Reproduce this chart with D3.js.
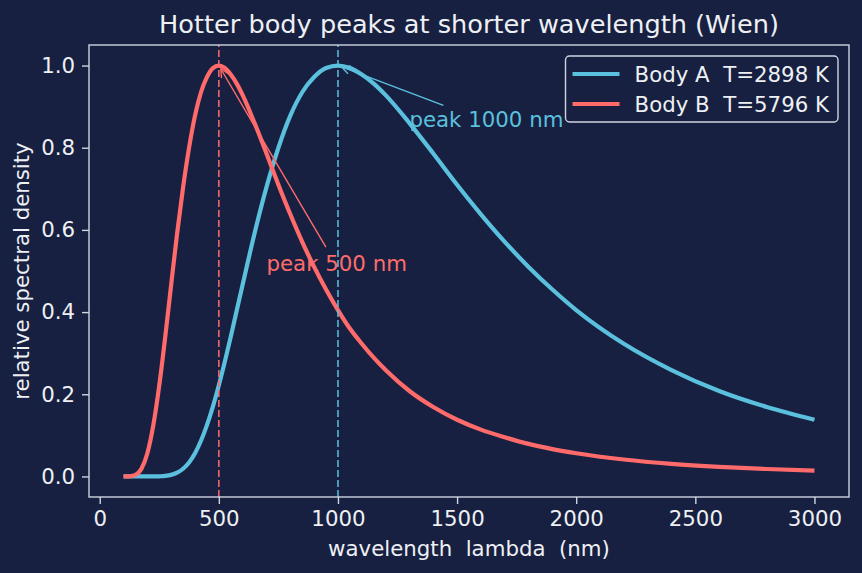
<!DOCTYPE html>
<html lang="en">
<head>
<meta charset="UTF-8">
<title>Hotter body peaks at shorter wavelength (Wien)</title>
<script src="https://d3js.org/d3.v7.min.js"></script>
<style>
  html, body { margin: 0; padding: 0; background: #172040; }
  svg { display: block; font-family: "DejaVu Sans", sans-serif; }
  text { white-space: pre; }
</style>
</head>
<body>
<svg id="chart" width="862" height="573"></svg>
<script>
// wavelengths (nm) at which the curves were read
const wavelengths = [100,125,150,175,200,225,250,275,300,325,350,375,400,425,450,475,500,
  525,550,575,600,650,700,750,800,850,900,950,1000,1050,1100,1150,1200,
  1300,1400,1500,1600,1700,1800,1900,2000,2200,2400,2600,2800,3000];

// Body A, T = 2898 K (relative spectral density)
const bodyA = [0,0,0,0,0,0,0.0004,0.0013,0.0038,0.0091,0.0187,0.0341,0.0566,0.0869,0.125,0.170,0.222,
  0.279,0.340,0.404,0.467,0.592,0.704,0.800,0.878,0.935,0.972,0.994,1.0,0.994,0.978,0.956,0.928,
  0.860,0.786,0.710,0.638,0.571,0.510,0.455,0.405,0.323,0.259,0.208,0.169,0.138];

// Body B, T = 5796 K
const bodyB = [0,0.0004,0.0038,0.0187,0.0566,0.125,0.222,0.340,0.467,0.592,0.704,0.800,0.878,0.935,0.972,0.994,1.0,
  0.994,0.978,0.956,0.928,0.860,0.786,0.710,0.638,0.571,0.510,0.455,0.405,0.360,0.323,0.289,0.259,
  0.208,0.169,0.138,0.114,0.0955,0.0792,0.0666,0.0565,0.0412,0.0307,0.0234,0.0181,0.0142];

const seriesNames = ["Body A  T=2898 K", "Body B  T=5796 K"];
const peaks = [1000, 500];
const peakLabels = ["peak 1000 nm", "peak 500 nm"];
const labelPos = [[1300, 0.85], [700, 0.5]];
const xTicks = [0, 500, 1000, 1500, 2000, 2500, 3000];
const yTicks = [0.0, 0.2, 0.4, 0.6, 0.8, 1.0];

const colors = ["#5bc0de", "#ff6b6b"];
const fg = "#eef0f4";
const spine = "#cfd4e0";
const fs = 21.3;

const margin = {top: 45, right: 13, bottom: 76, left: 89};
const width = 862, height = 573;

const svg = d3.select("#chart");

const x = d3.scaleLinear().domain([-45, 3145]).range([margin.left, width - margin.right]);
const y = d3.scaleLinear().domain([-0.05, 1.05]).range([height - margin.bottom, margin.top]);

// background
svg.append("rect").attr("width", width).attr("height", height).attr("fill", "#172040");

// axes
const xAxis = svg.append("g")
  .attr("transform", `translate(0,${height - margin.bottom})`)
  .call(d3.axisBottom(x).tickValues(xTicks).tickFormat(d3.format("d")).tickSizeOuter(0).tickSize(7).tickPadding(7));
const yAxis = svg.append("g")
  .attr("transform", `translate(${margin.left},0)`)
  .call(d3.axisLeft(y).tickValues(yTicks).tickFormat(d3.format(".1f")).tickSizeOuter(0).tickSize(7).tickPadding(7));
[xAxis, yAxis].forEach(g => {
  g.select(".domain").remove();
  g.selectAll(".tick line").attr("stroke", spine).attr("stroke-width", 1.4);
  g.selectAll(".tick text").attr("fill", fg).attr("font-size", fs).attr("font-family", "DejaVu Sans");
});

// curves
const line = d3.line().x(d => x(d[0])).y(d => y(d[1])).curve(d3.curveMonotoneX);
[bodyA, bodyB].forEach((vals, i) => {
  svg.append("path")
    .datum(wavelengths.map((w, j) => [w, vals[j]]))
    .attr("d", line)
    .attr("fill", "none")
    .attr("stroke", colors[i])
    .attr("stroke-width", 4.2)
    .attr("stroke-linejoin", "round");
});

// peak markers
peaks.forEach((p, i) => {
  svg.append("line")
    .attr("x1", x(p)).attr("x2", x(p))
    .attr("y1", y.range()[0]).attr("y2", y.range()[1])
    .attr("stroke", colors[i])
    .attr("stroke-width", 1.5)
    .attr("stroke-dasharray", "7,3");
});

// annotations with arrows
peaks.forEach((p, i) => {
  const t = svg.append("text")
    .attr("x", x(labelPos[i][0]))
    .attr("y", y(labelPos[i][1]))
    .attr("fill", colors[i])
    .attr("font-size", fs)
    .text(peakLabels[i]);
  const bb = t.node().getBBox();
  const pad = 4.2;
  const bx0 = bb.x - pad, bx1 = bb.x + bb.width + pad;
  const base = y(labelPos[i][1]);
  const by0 = base - 0.76 * fs - pad, by1 = base + 0.24 * fs + pad;
  const cx = (bx0 + bx1) / 2, cy = (by0 + by1) / 2;
  const tx = x(p), ty = y(1.0);
  const dx = tx - cx, dy = ty - cy;
  // where the line from text centre to target leaves the text box
  let s = Infinity;
  if (dx !== 0) s = Math.min(s, Math.abs((dx > 0 ? bx1 - cx : bx0 - cx) / dx));
  if (dy !== 0) s = Math.min(s, Math.abs((dy > 0 ? by1 - cy : by0 - cy) / dy));
  const len = Math.hypot(dx, dy);
  const ux = dx / len, uy = dy / len;
  const sx = cx + dx * s + ux * 4, sy = cy + dy * s + uy * 4;
  const ex = tx - ux * 4, ey = ty - uy * 4;
  const g = svg.append("g").attr("stroke", colors[i]).attr("stroke-width", 1.4).attr("fill", "none");
  g.append("line").attr("x1", sx).attr("y1", sy).attr("x2", ex).attr("y2", ey);
  const hl = 8.3, hw = 4.2;
  const px = -uy, py = ux;
  g.append("path").attr("d",
    `M${ex - ux * hl + px * hw},${ey - uy * hl + py * hw}L${ex},${ey}L${ex - ux * hl - px * hw},${ey - uy * hl - py * hw}`);
});

// spines
svg.append("rect")
  .attr("x", margin.left).attr("y", margin.top)
  .attr("width", width - margin.left - margin.right)
  .attr("height", height - margin.top - margin.bottom)
  .attr("fill", "none").attr("stroke", spine).attr("stroke-width", 1.4);

// title and axis labels
svg.append("text")
  .attr("x", (margin.left + width - margin.right) / 2).attr("y", 33)
  .attr("text-anchor", "middle").attr("fill", fg).attr("font-size", 25.6)
  .text("Hotter body peaks at shorter wavelength (Wien)");
svg.append("text")
  .attr("x", (margin.left + width - margin.right) / 2).attr("y", 556)
  .attr("text-anchor", "middle").attr("fill", fg).attr("font-size", fs)
  .text("wavelength  lambda  (nm)");
svg.append("text")
  .attr("transform", `translate(29,${(margin.top + height - margin.bottom) / 2}) rotate(-90)`)
  .attr("text-anchor", "middle").attr("fill", fg).attr("font-size", fs)
  .text("relative spectral density");

// legend
const legend = svg.append("g");
const box = legend.append("rect");
const texts = seriesNames.map((name, i) => {
  legend.append("line")
    .attr("x1", 0).attr("x2", 47)
    .attr("y1", 18 + i * 30).attr("y2", 18 + i * 30)
    .attr("stroke", colors[i]).attr("stroke-width", 4.2);
  return legend.append("text")
    .attr("x", 62).attr("y", 18 + i * 30).attr("dy", "0.36em")
    .attr("fill", fg).attr("font-size", fs)
    .text(name);
});
const tw = d3.max(texts, t => t.node().getComputedTextLength());
const boxW = 62 + tw + 16;
box.attr("x", -7).attr("y", 0).attr("width", boxW).attr("height", 66)
  .attr("rx", 4).attr("fill", "#172040").attr("stroke", spine).attr("stroke-width", 1.4);
legend.attr("transform", `translate(${width - margin.right - 11 - boxW + 7},${margin.top + 11})`);
</script>
</body>
</html>
